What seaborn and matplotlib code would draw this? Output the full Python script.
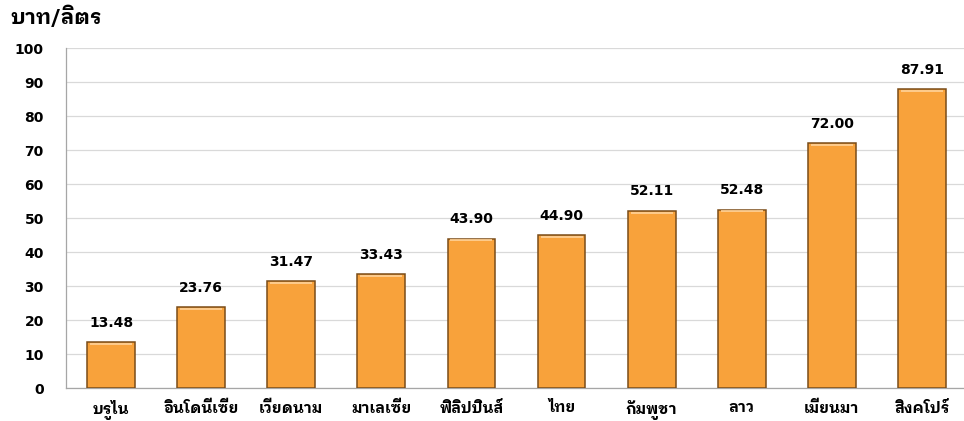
import matplotlib
matplotlib.use("Agg")
import matplotlib.pyplot as plt
import seaborn as sns
import pandas as pd
import numpy as np

# retail price per litre, ASEAN countries
countries = ['บรูไน', 'อินโดนีเซีย', 'เวียดนาม', 'มาเลเซีย', 'ฟิลิปปินส์',
             'ไทย', 'กัมพูชา', 'ลาว', 'เมียนมา', 'สิงคโปร์']
prices = [13.48, 23.76, 31.47, 33.43, 43.90, 44.90, 52.11, 52.48, 72.00, 87.91]
y_ticks = [0, 10, 20, 30, 40, 50, 60, 70, 80, 90, 100]
unit_label = 'บาท/ลิตร'

df = pd.DataFrame({'country': countries, 'price': prices})

sns.set_style('white')
plt.rcParams['font.family'] = ['DejaVu Sans', 'Loma']
plt.rcParams['font.weight'] = 'bold'
thai_fam = ['IBM Plex Sans Thai Looped', 'Sarabun', 'DejaVu Sans']

fig = plt.figure(figsize=(9.64, 4.21), dpi=100)
ax = fig.add_axes([66/964, 33/421, 901/964, 340/421])

sns.barplot(data=df, x='country', y='price', ax=ax, width=0.53,
            color='#F8A23B', edgecolor='#7A4C18', linewidth=1.1, saturation=1,
            zorder=3)

# light highlight along the top of each bar
for p in ax.patches:
    x0, w, h = p.get_x(), p.get_width(), p.get_height()
    ax.plot([x0 + w * 0.06, x0 + w * 0.94], [h - 0.5, h - 0.5],
            color='#FFD39A', lw=1.2, zorder=4, solid_capstyle='butt')

for i, v in enumerate(prices):
    ax.annotate(f'{v:.2f}', (i, v), xytext=(0, 14), textcoords='offset points',
                ha='center', va='center', fontsize=10, fontweight='bold',
                color='black')

ax.set_ylim(0, 100)
ax.set_xlim(-0.5, len(countries) - 0.5)
ax.set_yticks(y_ticks)
ax.yaxis.grid(True, color='#D9D9D9', lw=0.9, zorder=0)
ax.set_axisbelow(True)
ax.set_xlabel('')
ax.set_ylabel('')

ax.tick_params(axis='y', length=0, pad=16, labelsize=10, labelcolor='black')
ax.tick_params(axis='x', which='major', length=0, pad=9, labelsize=11,
               labelcolor='black')
ax.set_xticks(np.arange(-0.5, len(countries), 1), minor=True)
ax.tick_params(axis='x', which='minor', length=5, width=0.9, color='#A6A6A6',
               direction='out')
for lab in ax.get_yticklabels():
    lab.set_fontweight('bold')
for lab in ax.get_xticklabels():
    lab.set_fontweight('bold')
    lab.set_family(thai_fam)

for s in ['top', 'right']:
    ax.spines[s].set_visible(False)
for s in ['left', 'bottom']:
    ax.spines[s].set_color('#A6A6A6')
    ax.spines[s].set_linewidth(0.9)

fig.text(10/964, 1 - 17/421, unit_label, ha='left', va='center',
         fontsize=15, fontweight='bold', family=thai_fam, color='black')

plt.savefig('out.png', dpi=100)
